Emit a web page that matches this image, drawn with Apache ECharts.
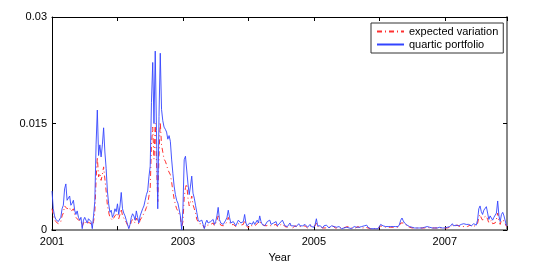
<!DOCTYPE html>
<html>
<head>
<meta charset="utf-8">
<script src="https://cdn.jsdelivr.net/npm/echarts@6/dist/echarts.min.js"></script>
<style>html,body{margin:0;padding:0;background:#fff}#c{width:545px;height:268px}</style>
</head>
<body>
<div id="c"></div>
<script>
// weekly observations starting at the beginning of 2001
const startYear = 2001;
const weeksPerYear = 52;
const seriesNames = ['expected variation', 'quartic portfolio'];
const xTickLabels = ['2001', '2003', '2005', '2007'];
const yTicks = [0, 0.015, 0.03];

const expectedVariation = [
0.003,0.0022,0.0015,0.0012,0.001,0.0009,0.001,0.0012,0.002,0.0024,
0.0034,0.0036,0.003,0.0028,0.0032,0.0026,0.0028,0.003,0.0022,0.0018,
0.002,0.0014,0.0012,0.0013,0.0005,0.001,0.0013,0.0014,0.0008,0.0011,
0.0012,0.0009,0.0004,0.0012,0.0025,0.007,0.0103,0.0075,0.008,0.007,
0.0078,0.0089,0.0072,0.0055,0.0035,0.0025,0.0018,0.002,0.0014,0.0016,
0.002,0.0018,0.0024,0.0016,0.0022,0.003,0.002,0.0017,0.0014,0.0011,
0.0007,0.0003,0.0006,0.0012,0.0015,0.0014,0.001,0.0017,0.0013,0.0008,
0.0014,0.0015,0.002,0.0022,0.0027,0.0032,0.0036,0.0048,0.0058,0.012,
0.0145,0.01,0.015,0.0095,0.004,0.0105,0.0152,0.012,0.011,0.01,
0.0097,0.0092,0.0085,0.0084,0.0078,0.0068,0.0055,0.0044,0.0036,0.003,
0.0027,0.0028,0.0018,0.0004,0.0012,0.0045,0.006,0.0065,0.0045,0.0034,
0.004,0.0048,0.0036,0.003,0.0024,0.0015,0.0012,0.0009,0.0008,0.0009,
0.0006,0.0003,0.0007,0.0009,0.0007,0.0006,0.0008,0.0007,0.001,0.0006,
0.0008,0.0013,0.002,0.0011,0.0007,0.0008,0.0006,0.0007,0.0009,0.0012,
0.0018,0.0012,0.0007,0.0006,0.0008,0.0007,0.0005,0.0007,0.0009,0.001,
0.0007,0.0006,0.0008,0.0014,0.0007,0.0005,0.0003,0.0007,0.0008,0.0006,
0.0008,0.0006,0.0007,0.0009,0.0007,0.0013,0.0008,0.0006,0.0007,0.0005,
0.0006,0.0008,0.0007,0.0009,0.0006,0.0005,0.0007,0.0006,0.0008,0.0005,
0.0006,0.0007,0.0006,0.0009,0.0007,0.0005,0.0006,0.0004,0.0005,0.0007,
0.0005,0.0003,0.0005,0.0006,0.0004,0.0005,0.0006,0.0005,0.0003,0.0005,
0.0004,0.0006,0.0005,0.0003,0.0005,0.0006,0.0004,0.0005,0.0003,0.0006,
0.001,0.0005,0.0003,0.0005,0.0004,0.0003,0.0005,0.0003,0.0005,0.0004,
0.0003,0.0004,0.0005,0.0006,0.0004,0.0003,0.0003,0.0003,0.0004,0.0003,
0.0002,0.0003,0.0003,0.0004,0.0003,0.0005,0.0003,0.0003,0.0002,0.0003,
0.0004,0.0003,0.0003,0.0005,0.0003,0.0003,0.0004,0.0003,0.0005,0.0004,
0.0005,0.0003,0.0003,0.0002,0.0003,0.0002,0.0003,0.0002,0.0003,0.0002,
0.0003,0.0006,0.0005,0.0005,0.0005,0.0004,0.0005,0.0004,0.0005,0.0004,
0.0005,0.0004,0.0003,0.0004,0.0003,0.0004,0.0006,0.001,0.0012,0.001,
0.0008,0.0008,0.0005,0.0006,0.0004,0.0005,0.0003,0.0004,0.0003,0.0003,
0.0003,0.0004,0.0003,0.0003,0.0003,0.0002,0.0003,0.0003,0.0004,0.0003,
0.0003,0.0002,0.0003,0.0004,0.0003,0.0003,0.0003,0.0002,0.0003,0.0005,
0.0003,0.0003,0.0003,0.0004,0.0003,0.0005,0.0004,0.0005,0.0007,0.0005,
0.0006,0.0005,0.0007,0.0005,0.0005,0.0006,0.0005,0.0007,0.0005,0.0006,
0.0005,0.0006,0.0007,0.0005,0.0005,0.0007,0.0006,0.0005,0.0009,0.0018,
0.0022,0.0017,0.0014,0.0018,0.0019,0.002,0.0015,0.001,0.0012,0.0014,
0.0009,0.0011,0.001,0.0015,0.0024,0.0013,0.0008,0.0014,0.0016,0.0013,
0.0014,0.0005
];

const quarticPortfolio = [
0.0055,0.003,0.002,0.0015,0.0016,0.0012,0.0014,0.0018,0.003,0.0035,
0.0058,0.0065,0.0042,0.004,0.0048,0.0035,0.0038,0.0042,0.0028,0.0022,
0.0027,0.0018,0.0014,0.0018,0.0002,0.0014,0.0018,0.002,0.001,0.0016,
0.0018,0.0012,0.0002,0.002,0.004,0.012,0.0169,0.0105,0.012,0.0103,
0.012,0.0144,0.011,0.0087,0.0055,0.0037,0.0025,0.0028,0.0018,0.0022,
0.003,0.0026,0.0037,0.0022,0.0034,0.0053,0.003,0.0024,0.002,0.0014,
0.0008,0.0002,0.0008,0.0018,0.0023,0.002,0.0014,0.0027,0.0018,0.001,
0.002,0.0022,0.003,0.0034,0.0042,0.005,0.0055,0.0075,0.009,0.018,
0.0236,0.015,0.0252,0.014,0.003,0.016,0.0249,0.017,0.0154,0.0145,
0.0142,0.0138,0.0128,0.0133,0.0125,0.01,0.008,0.0062,0.005,0.0042,
0.0038,0.004,0.002,0,0.003,0.0099,0.0104,0.0106,0.0065,0.005,
0.0062,0.0076,0.0052,0.0045,0.0035,0.0025,0.0015,0.0012,0.0012,0.0014,
0.0008,0.0002,0.001,0.0014,0.001,0.0008,0.0012,0.001,0.0015,0.0008,
0.0012,0.002,0.0032,0.0015,0.001,0.0012,0.0008,0.001,0.0014,0.0018,
0.0028,0.0018,0.001,0.0008,0.0012,0.001,0.0006,0.001,0.0014,0.0016,
0.001,0.0008,0.0012,0.0022,0.001,0.0006,0.0004,0.001,0.0012,0.0008,
0.0012,0.0008,0.001,0.0014,0.001,0.002,0.0012,0.0008,0.001,0.0006,
0.0008,0.0012,0.001,0.0014,0.0008,0.0006,0.001,0.0008,0.0012,0.0006,
0.0008,0.001,0.0008,0.0014,0.001,0.0006,0.0008,0.0005,0.0007,0.001,
0.0006,0.0004,0.0006,0.0008,0.0005,0.0006,0.0009,0.0006,0.0004,0.0006,
0.0005,0.0008,0.0006,0.0004,0.0006,0.0008,0.0005,0.0006,0.0004,0.0008,
0.0016,0.0006,0.0004,0.0006,0.0005,0.0003,0.0006,0.0004,0.0007,0.0005,
0.0003,0.0005,0.0006,0.0008,0.0005,0.0003,0.0004,0.0003,0.0005,0.0004,
0.0002,0.0004,0.0003,0.0005,0.0004,0.0006,0.0003,0.0004,0.0002,0.0004,
0.0005,0.0003,0.0004,0.0006,0.0004,0.0003,0.0005,0.0004,0.0006,0.0005,
0.0007,0.0004,0.0003,0.0002,0.0003,0.0002,0.0003,0.0002,0.0003,0.0002,
0.0003,0.0008,0.0007,0.0006,0.0006,0.0005,0.0006,0.0005,0.0006,0.0005,
0.0006,0.0005,0.0004,0.0005,0.0004,0.0005,0.0008,0.0014,0.0017,0.0013,
0.001,0.0011,0.0007,0.0008,0.0005,0.0006,0.0004,0.0005,0.0003,0.0004,
0.0003,0.0005,0.0003,0.0004,0.0003,0.0002,0.0004,0.0003,0.0005,0.0003,
0.0004,0.0002,0.0003,0.0005,0.0003,0.0004,0.0003,0.0002,0.0004,0.0006,
0.0003,0.0004,0.0003,0.0005,0.0004,0.0006,0.0005,0.0007,0.0009,0.0006,
0.0008,0.0007,0.0009,0.0006,0.0007,0.0008,0.0006,0.0009,0.0007,0.0008,
0.0006,0.0008,0.0009,0.0006,0.0007,0.0009,0.0008,0.0007,0.0014,0.003,
0.0034,0.0026,0.0022,0.0028,0.003,0.0033,0.0024,0.0015,0.002,0.0022,
0.0014,0.0018,0.0016,0.0024,0.0041,0.002,0.0012,0.0022,0.0025,0.002,
0.0022,0.0006
];

const toPoints = arr => arr.map((v, i) => [startYear + i / weeksPerYear, v]);

const FONT = 'Liberation Sans, Arial, Helvetica, sans-serif';
const xMin = 2001, xMax = 2007.95;
const chart = echarts.init(document.getElementById('c'), null, {renderer: 'canvas'});
chart.setOption({
  animation: false,
  backgroundColor: '#fff',
  grid: {left: 52, right: 38, top: 17, bottom: 33},
  legend: {
    orient: 'vertical',
    left: 371, top: 23,
    padding: [3, 5, 3, 5],
    itemGap: 2,
    itemWidth: 27, itemHeight: 11,
    backgroundColor: '#fff',
    borderColor: '#333', borderWidth: 1,
    itemStyle: {opacity: 0, borderWidth: 0},
    textStyle: {fontFamily: FONT, fontSize: 11, color: '#000'},
    data: seriesNames
  },
  xAxis: [{
    type: 'value', min: xMin, max: xMax, interval: 1,
    name: 'Year', nameLocation: 'middle', nameGap: 21,
    nameTextStyle: {fontFamily: FONT, fontSize: 11, color: '#000'},
    axisLine: {onZero: false, lineStyle: {color: '#888', width: 2}},
    axisTick: {inside: true, length: 4, lineStyle: {color: '#000'}},
    axisLabel: {fontFamily: FONT, fontSize: 11, color: '#000', margin: 6,
      formatter: v => xTickLabels.indexOf(String(v)) >= 0 ? String(v) : ''},
    splitLine: {show: false}
  }, {
    type: 'value', min: xMin, max: xMax, interval: 1, position: 'top',
    axisLine: {onZero: false, lineStyle: {color: '#000', width: 1}},
    axisTick: {inside: true, length: 4, lineStyle: {color: '#000'}},
    axisLabel: {show: false},
    splitLine: {show: false}
  }],
  yAxis: [{
    type: 'value', min: yTicks[0], max: yTicks[2], interval: yTicks[1],
    axisLine: {onZero: false, lineStyle: {color: '#000', width: 1}},
    axisTick: {inside: true, length: 4, lineStyle: {color: '#000'}},
    axisLabel: {fontFamily: FONT, fontSize: 11, color: '#000', margin: 5},
    splitLine: {show: false}
  }, {
    type: 'value', min: yTicks[0], max: yTicks[2], interval: yTicks[1], position: 'right',
    axisLine: {onZero: false, lineStyle: {color: '#888', width: 2}},
    axisTick: {inside: true, length: 4, lineStyle: {color: '#000'}},
    axisLabel: {show: false},
    splitLine: {show: false}
  }],
  series: [{
    name: seriesNames[0], type: 'line', showSymbol: false, symbol: 'none',
    data: toPoints(expectedVariation),
    lineStyle: {color: '#ff3030', width: 1, type: [5, 3, 1, 3]},
    itemStyle: {color: '#ff3030'}
  }, {
    name: seriesNames[1], type: 'line', showSymbol: false, symbol: 'none',
    data: toPoints(quarticPortfolio),
    lineStyle: {color: '#3344ff', width: 0.9},
    itemStyle: {color: '#3344ff'}
  }]
});
</script>
</body>
</html>
